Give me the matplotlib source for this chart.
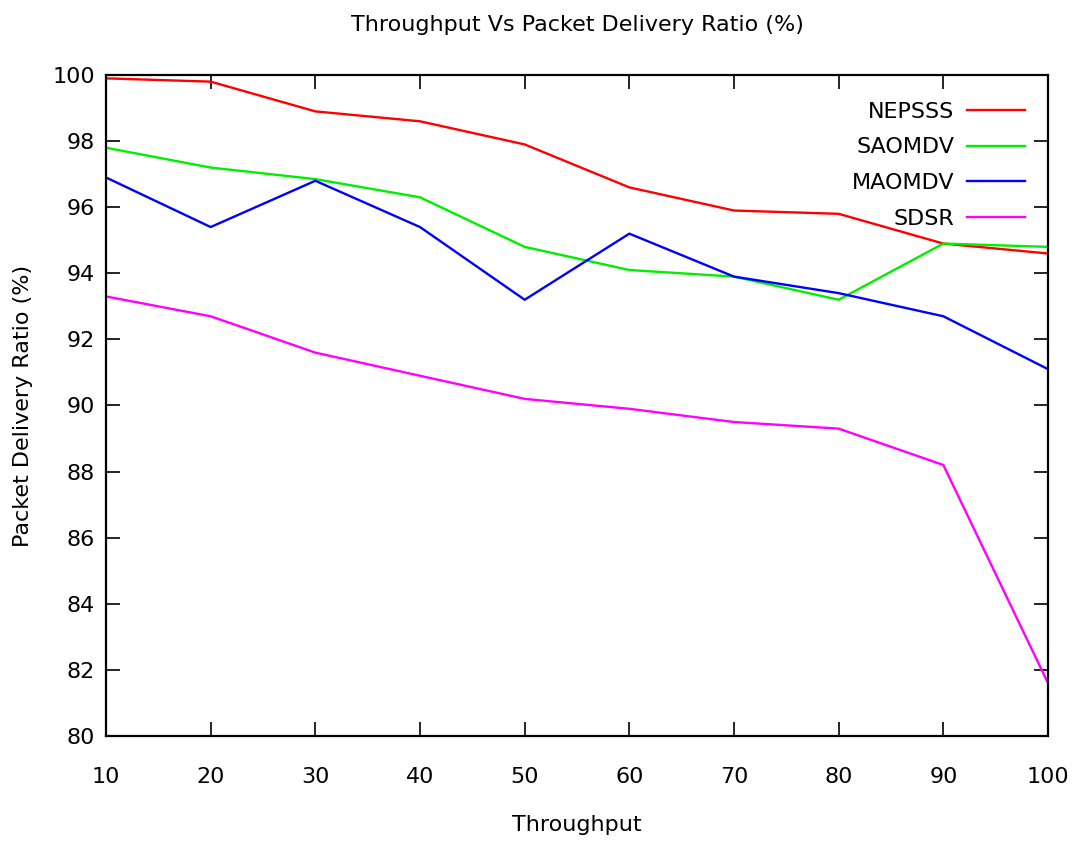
import matplotlib.pyplot as plt

# Throughput values on the x axis
throughput = [10, 20, 30, 40, 50, 60, 70, 80, 90, 100]

# Packet delivery ratio (%) per protocol
nepsss = [99.9, 99.8, 98.9, 98.6, 97.9, 96.6, 95.9, 95.8, 94.9, 94.6]
saomdv = [97.8, 97.2, 96.85, 96.3, 94.8, 94.1, 93.9, 93.2, 94.9, 94.8]
maomdv = [96.9, 95.4, 96.8, 95.4, 93.2, 95.2, 93.9, 93.4, 92.7, 91.1]
sdsr = [93.3, 92.7, 91.6, 90.9, 90.2, 89.9, 89.5, 89.3, 88.2, 81.6]

y_ticks = [80, 82, 84, 86, 88, 90, 92, 94, 96, 98, 100]

plt.rcParams['font.family'] = ['DejaVu Sans']
fs = 16

fig = plt.figure(figsize=(10.75, 8.44), dpi=100)
ax = fig.add_axes([0.0986, 0.128, 0.8763, 0.7831])

ax.plot(throughput, nepsss, color='#ff0000', lw=1.7, label='NEPSSS')
ax.plot(throughput, saomdv, color='#00ee00', lw=1.7, label='SAOMDV')
ax.plot(throughput, maomdv, color='#0000ff', lw=1.7, label='MAOMDV')
ax.plot(throughput, sdsr, color='#ff00ff', lw=1.7, label='SDSR')

ax.set_xlim(10, 100)
ax.set_ylim(80, 100)
ax.set_xticks(throughput)
ax.set_yticks(y_ticks)
ax.tick_params(direction='in', length=10, width=1.2, top=True, right=True,
               labelsize=fs, pad=8)
ax.tick_params(axis='x', pad=22)
for s in ax.spines.values():
    s.set_linewidth(1.6)

ax.set_title('Throughput Vs Packet Delivery Ratio (%)', fontsize=fs, pad=32)
ax.set_xlabel('Throughput', fontsize=fs)
ax.set_ylabel('Packet Delivery Ratio (%)', fontsize=fs)
ax.xaxis.set_label_coords(0.5, -0.12)
ax.yaxis.set_label_coords(-0.077, 0.5)

ax.legend(loc='upper right', bbox_to_anchor=(0.997, 0.99), frameon=False,
          markerfirst=False, fontsize=fs, handlelength=2.6,
          handletextpad=0.6, labelspacing=0.71)

fig.savefig('out.png', dpi=100)
